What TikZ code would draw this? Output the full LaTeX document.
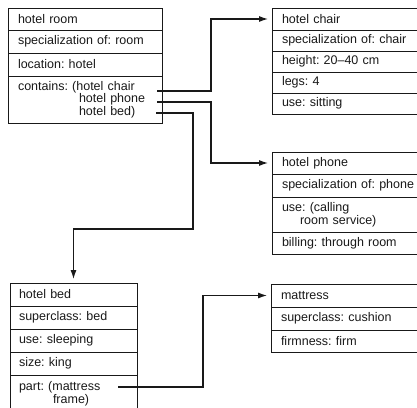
\documentclass[tikz,border=0pt]{standalone}
\usepackage{fontspec}
\setmainfont{Liberation Sans}
\usepackage{xcolor}
\definecolor{ink}{RGB}{25,25,25}
\usepackage{tikz}
\usetikzlibrary{arrows.meta,positioning,calc}
\frenchspacing
\tikzset{
  %% one row of a frame
  slot/.style={draw=ink, line width=0.9pt, anchor=north west, outer sep=0pt,
    inner xsep=10pt, inner ysep=0pt, text width=#1, align=left,
    font=\fontsize{12.5}{11}\selectfont, text=ink},
  %% slot filler pointing at another frame
  link/.style={draw=ink, line width=1.1pt, -{Latex[length=9pt,width=6pt]},
    shorten >=4pt},
}

\begin{document}
\begin{tikzpicture}[x=1pt,y=-1pt]
\useasboundingbox (0,0) rectangle (417,407);
\clip (0,0) rectangle (417,407);

%% hotel room
\node[slot=134pt,minimum height=22pt] (room1) at (8,8) {hotel room};
\node[slot=134pt,minimum height=23pt,below=0pt of room1.south west,anchor=north west] (room2) {specialization of: room};
\node[slot=134pt,minimum height=23pt,below=0pt of room2.south west,anchor=north west] (room3) {location: hotel};
\node[slot=134pt,minimum height=47pt,below=0pt of room3.south west,anchor=north west] (room4)
  {contains: (hotel chair\\\hspace*{61pt}hotel phone\\\hspace*{61pt}hotel bed)};

%% hotel chair
\node[slot=140pt,minimum height=22pt] (chair1) at (272,8) {hotel chair};
\node[slot=140pt,minimum height=21pt,below=0pt of chair1.south west,anchor=north west] (chair2) {specialization of: chair};
\node[slot=140pt,minimum height=21pt,below=0pt of chair2.south west,anchor=north west] (chair3) {height: 20--40 cm};
\node[slot=140pt,minimum height=21pt,below=0pt of chair3.south west,anchor=north west] (chair4) {legs: 4};
\node[slot=140pt,minimum height=21pt,below=0pt of chair4.south west,anchor=north west] (chair5) {use: sitting};

%% hotel phone
\node[slot=140pt,minimum height=22pt] (phone1) at (272,152) {hotel phone};
\node[slot=140pt,minimum height=23pt,below=0pt of phone1.south west,anchor=north west] (phone2) {specialization of: phone};
\node[slot=140pt,minimum height=35pt,below=0pt of phone2.south west,anchor=north west] (phone3)
  {use: (calling\\\hspace*{18pt}room service)};
\node[slot=140pt,minimum height=22pt,below=0pt of phone3.south west,anchor=north west] (phone4) {billing: through room};

%% hotel bed
\node[slot=109pt,minimum height=23pt,inner xsep=9pt] (bed1) at (10,283) {hotel bed};
\node[slot=109pt,minimum height=23pt,inner xsep=9pt,below=0pt of bed1.south west,anchor=north west] (bed2) {superclass: bed};
\node[slot=109pt,minimum height=23pt,inner xsep=9pt,below=0pt of bed2.south west,anchor=north west] (bed3) {use: sleeping};
\node[slot=109pt,minimum height=23pt,inner xsep=9pt,below=0pt of bed3.south west,anchor=north west] (bed4) {size: king};
\node[slot=109pt,minimum height=38pt,inner xsep=9pt,below=0pt of bed4.south west,anchor=north west] (bed5)
  {part: (mattress\\\hspace*{34pt}frame)};

%% mattress
\node[slot=140pt,minimum height=23pt] (mat1) at (271,284) {mattress};
\node[slot=140pt,minimum height=23pt,below=0pt of mat1.south west,anchor=north west] (mat2) {superclass: cushion};
\node[slot=140pt,minimum height=22pt,below=0pt of mat2.south west,anchor=north west] (mat3) {firmness: firm};

%% connectors
\coordinate (chairout) at ($(room4.north east)+(-5,15)$);
\coordinate (phoneout) at ($(room4.north east)+(-5,26)$);
\coordinate (bedout) at ($(room4.north east)+(-6,37)$);
\coordinate (partout) at ($(bed5.north east)+(-19,12)$);
\coordinate (busx) at (211,0);
\coordinate (bedx) at (193,229);
\coordinate (partx) at (203,0);

\draw[link] (chairout) -| (busx |- chair1.west) -- (chair1.west);
\draw[link] (phoneout) -| (busx |- phone1.west) -- (phone1.west);
\draw[link] (bedout) -| (bedx) -| (bed1.north);
\draw[link] (partout) -| (partx |- mat1.west) -- (mat1.west);
\end{tikzpicture}
\end{document}
